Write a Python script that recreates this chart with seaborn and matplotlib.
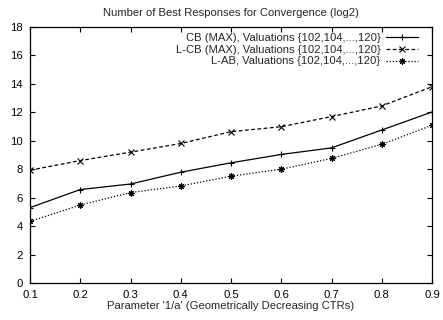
import matplotlib
matplotlib.use('Agg')
import matplotlib.pyplot as plt
import pandas as pd
import seaborn as sns

# Values
x_params = [0.1, 0.2, 0.3, 0.4, 0.5, 0.6, 0.7, 0.8, 0.9]
cb_max = [5.3, 6.57, 6.96, 7.79, 8.45, 9.04, 9.5, 10.76, 12.02]
lcb_max = [7.93, 8.61, 9.2, 9.81, 10.64, 10.99, 11.7, 12.45, 13.8]
l_ab = [4.33, 5.48, 6.36, 6.82, 7.51, 8.0, 8.76, 9.75, 11.09]

labels = ['CB (MAX), Valuations {102,104,...,120}',
          'L-CB (MAX), Valuations {102,104,...,120}',
          'L-AB, Valuations {102,104,...,120}']
x_ticks = [0.1, 0.2, 0.3, 0.4, 0.5, 0.6, 0.7, 0.8, 0.9]
y_ticks = [0, 2, 4, 6, 8, 10, 12, 14, 16, 18]


def build_frame():
    rows = []
    for label, values in zip(labels, [cb_max, lcb_max, l_ab]):
        for x, y in zip(x_params, values):
            rows.append({'Param': x, 'Value': y, 'Series': label})
    return pd.DataFrame(rows)


def main():
    sns.set_style('ticks')
    plt.rcParams['font.family'] = ['Liberation Sans', 'DejaVu Sans']
    fs = 8.1

    df = build_frame()
    fig = plt.figure(figsize=(4.43, 3.2), dpi=100)
    ax = fig.add_axes([30 / 443, 1 - 283 / 320, 402 / 443, 256 / 320])

    styles = [
        dict(linestyle='-', marker='+', ms=5),
        dict(linestyle=(0, (3, 2)), marker='x', ms=4.2),
        dict(linestyle=(0, (1, 1.5)), marker=(8, 2, 0), ms=4.5),
    ]
    for label, st in zip(labels, styles):
        sub = df[df['Series'] == label]
        sns.lineplot(data=sub, x='Param', y='Value', ax=ax, color='black',
                     linewidth=0.9, label=label, markeredgewidth=0.8,
                     markeredgecolor='black', **st)

    ax.set_xlim(0.1, 0.9)
    ax.set_ylim(0, 18)
    ax.set_xticks(x_ticks)
    ax.set_xticklabels([f'{t:.1f}' for t in x_ticks])
    ax.set_yticks(y_ticks)
    ax.tick_params(direction='in', top=True, right=True, length=3.6, width=0.8,
                   labelsize=fs, colors='black')
    ax.tick_params(axis='x', pad=5)
    ax.tick_params(axis='y', pad=5)
    for s in ax.spines.values():
        s.set_linewidth(0.9)
        s.set_color('black')

    ax.set_title('Number of Best Responses for Convergence (log2)', fontsize=fs, pad=8)
    ax.set_xlabel("Parameter '1/a' (Geometrically Decreasing CTRs)", fontsize=fs, labelpad=1)
    ax.set_ylabel('')

    ax.legend(loc='upper right', bbox_to_anchor=(0.977, 0.993), frameon=False,
              markerfirst=False, fontsize=fs, handlelength=2.9, labelspacing=0.14,
              borderaxespad=0.0, handletextpad=0.45)

    fig.savefig('out.png', dpi=100)


if __name__ == '__main__':
    main()
